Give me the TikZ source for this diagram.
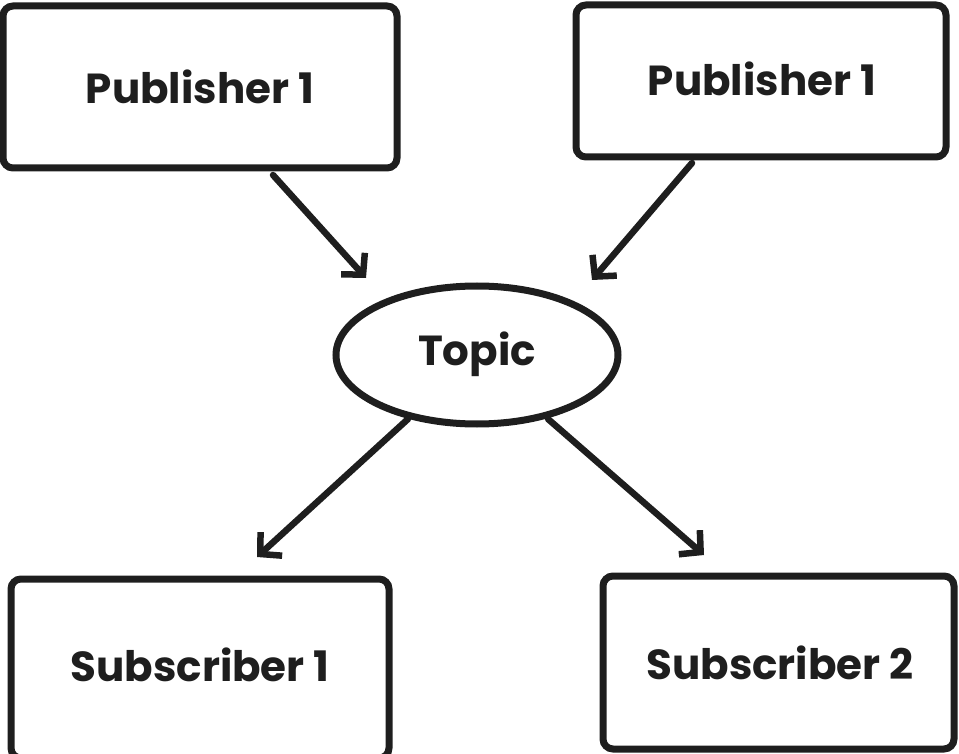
\documentclass[tikz,border=0pt]{standalone}
\usepackage{fontspec}
\setmainfont{Poppins}
\usetikzlibrary{arrows.meta,shapes.geometric}
\definecolor{ink}{HTML}{1E1E1E}
\tikzset{
  box/.style={draw=ink,line width=7pt,rounded corners=10pt,inner sep=0pt},
  lbl/.style={text=ink,font=\fontsize{42}{50}\selectfont\bfseries},
  conn/.style={draw=ink,line width=6.5pt,line cap=round,-{Straight Barb[length=15pt,width=32pt,line width=6.5pt]}},
}
\begin{document}
\begin{tikzpicture}[x=1pt,y=-1pt]
\useasboundingbox (0,0) rectangle (959,754);
\draw[box] (3,6) rectangle (397,168);
\node[lbl] (p1) at (200,87) {Publisher 1};
\draw[box] (576,5) rectangle (946,157);
\node[lbl] (p2) at (762,79) {Publisher 1};
\node[draw=ink,line width=7pt,ellipse,minimum width=282pt,minimum height=138pt] (topic) at (477,355) {};
\node[lbl] at (477,354) {Topic};
\draw[box] (11,579) rectangle (389,758);
\node[lbl] (s1) at (200,665) {Subscriber 1};
\draw[box] (603,576) rectangle (954,749);
\node[lbl] (s2) at (780,663) {Subscriber 2};
\coordinate (a1s) at (273,175); \coordinate (a1e) at (366,278);
\coordinate (a2s) at (692,163); \coordinate (a2e) at (592,280);
\coordinate (a3s) at (408,419); \coordinate (a3e) at (257,557);
\coordinate (a4s) at (548,419); \coordinate (a4e) at (704,555);
\draw[conn] (a1s) -- (a1e);
\draw[conn] (a2s) -- (a2e);
\draw[conn] (a3s) -- (a3e);
\draw[conn] (a4s) -- (a4e);
\end{tikzpicture}
\end{document}
